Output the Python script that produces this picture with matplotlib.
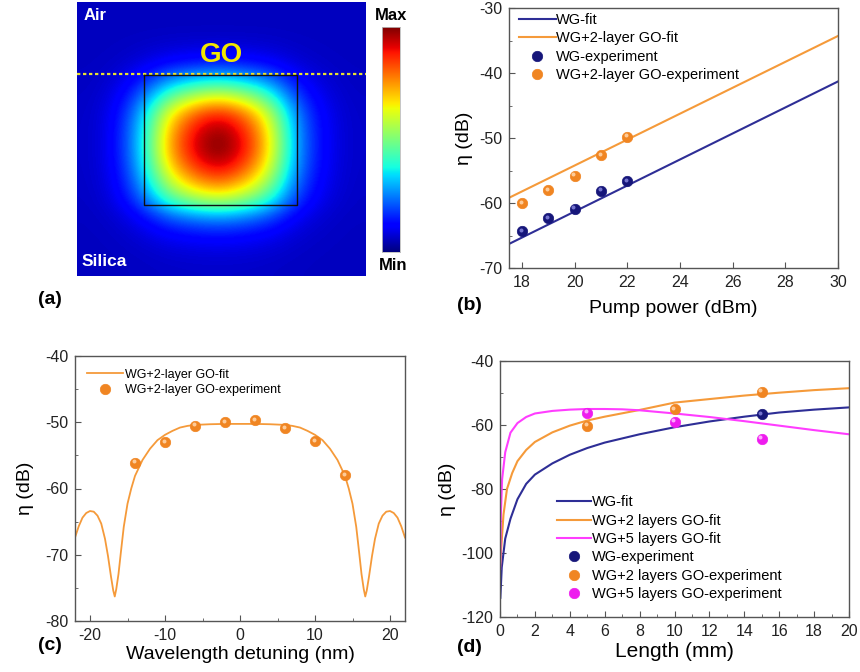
import numpy as np
import matplotlib
matplotlib.use('Agg')
import matplotlib.pyplot as plt
from matplotlib import transforms
from matplotlib.ticker import MultipleLocator

plt.rcParams['font.family'] = ['Liberation Sans', 'DejaVu Sans']
plt.rcParams['axes.unicode_minus'] = False

# (a) mode profile, read as two profiles (normalised) across the image
mode_x = [0.01, 0.03, 0.10, 0.25, 0.48, 0.72, 0.87, 0.97, 1.0,
          0.93, 0.80, 0.60, 0.34, 0.16, 0.07, 0.025, 0.01]
mode_y = [0.0, 0.0, 0.02, 0.09, 0.30, 0.59, 0.86, 0.97, 1.0,
          0.93, 0.78, 0.56, 0.24, 0.09, 0.03, 0.01]

# (b) pump power dependence
pump = [18, 19, 20, 21, 22]
wg_exp_b = [-64.3, -62.3, -60.9, -58.1, -56.6]
go_exp_b = [-60.0, -58.0, -55.8, -52.6, -49.8]
pump_fit = [17.5, 30]
wg_fit_b = [-66.3, -41.3]
go_fit_b = [-59.2, -34.3]

# (c) wavelength detuning (left half read, curve is symmetric)
det_half = [-22.0, -21.5, -21.0, -20.5, -20.0, -19.5, -19.0, -18.5, -18.0,
            -17.6, -17.2, -16.9, -16.7, -16.5, -16.2, -15.9, -15.5, -15.0,
            -14.5, -14.0, -13.0, -12.0, -11.0, -10.0, -9.0, -8.0, -7.0,
            -6.0, -5.0, -4.0, -2.0]
eta_half = [-67.4, -65.7, -64.4, -63.7, -63.4, -63.5, -64.1, -65.3, -67.6,
            -70.2, -73.3, -75.4, -76.3, -75.2, -72.9, -69.8, -65.8, -62.3,
            -60.0, -58.1, -55.7, -54.0, -52.7, -51.9, -51.3, -50.8, -50.55,
            -50.4, -50.35, -50.3, -50.25]
eta_center = -50.25
det_exp = [-14, -10, -6, -2, 2, 6, 10, 14]
eta_exp = [-56.1, -53.0, -50.5, -50.0, -49.7, -50.9, -52.9, -58.0]

# (d) length dependence
len_wg = [0.02, 0.1, 0.3, 0.6, 1.0, 1.5, 2.0, 3.0, 4.0, 5.0, 6.0, 8.0,
          10.0, 12.0, 14.0, 16.0, 18.0, 20.0]
wg_fit_d = [-114.0, -104.5, -95.5, -89.3, -83.2, -78.4, -75.5, -72.0, -69.3,
            -67.2, -65.5, -62.9, -60.7, -58.9, -57.4, -56.1, -55.2, -54.5]
len_go2 = [0.01, 0.1, 0.2, 0.4, 0.7, 1.0, 1.5, 2.0, 3.0, 4.0, 5.0, 6.0,
           8.0, 10.0, 12.0, 14.0, 16.0, 18.0, 20.0]
go2_fit_d = [-104.0, -96.0, -88.0, -80.0, -75.0, -71.3, -67.8, -65.3, -62.3,
             -60.2, -58.6, -57.4, -55.3, -53.0, -51.9, -50.8, -49.9, -49.1,
             -48.5]
len_go5 = [0.01, 0.05, 0.12, 0.3, 0.6, 1.0, 1.5, 2.0, 3.0, 4.0, 5.0, 6.0,
           7.0, 8.0, 10.0, 12.0, 14.0, 16.0, 18.0, 20.0]
go5_fit_d = [-105.0, -88.0, -77.0, -68.5, -62.4, -59.4, -57.5, -56.4, -55.6,
             -55.2, -55.0, -55.0, -55.1, -55.4, -56.4, -57.5, -58.8, -60.2,
             -61.6, -62.9]
len_exp = [5, 10, 15]
wg_exp_d = [-56.6]
go2_exp_d = [-60.2, -55.0, -49.6]
go5_exp_d = [-56.1, -59.0, -64.3]

c_wg = '#2e2e96'
c_or = '#f59a3a'
c_mg = '#ff3dff'
ball_wg = ('#16167a', '#7f7fd8')
ball_or = ('#f08522', '#ffd3a6')
ball_mg = ('#ee1cee', '#ffb8ff')

fig = plt.figure(figsize=(8.6, 6.72), dpi=100)


def balls(ax, x, y, colors, ms=7.5, label=None):
    h, = ax.plot(x, y, 'o', ms=ms, mfc=colors[0], mec=colors[0], mew=0.5,
                 label=label, zorder=4)
    hl = transforms.offset_copy(ax.transData, fig=fig, x=-1.0, y=1.0,
                                units='points')
    ax.plot(x, y, 'o', ms=ms * 0.38, mfc=colors[1], mec='none', alpha=0.9,
            transform=hl, zorder=5)
    return h


def style(ax):
    for s in ax.spines.values():
        s.set_color('#555555')
        s.set_linewidth(1.0)
    ax.tick_params(which='both', direction='in', top=False, right=False,
                   labelsize=11.5, colors='#555555', labelcolor='#222222')
    ax.tick_params(which='major', length=4, pad=5)
    ax.tick_params(which='minor', length=2.5)


# ---------- (a) ----------
axa = fig.add_axes([77 / 860, 1 - 276 / 672, 289 / 860, 274 / 672])
field = np.outer(mode_y, mode_x)
axa.imshow(field, cmap='jet', vmin=-0.06, vmax=1.0, extent=(77, 366, 276, 2),
           interpolation='bicubic', interpolation_stage='data', aspect='auto')
axa.plot([77, 366], [74, 74], color='#e8e030', lw=1.6, ls=(0, (1.5, 1.2)))
axa.plot([144, 144, 297, 297, 144], [75, 205, 205, 75, 75], color='#101010',
         lw=1.0)
axa.text(84, 16, 'Air', color='white', fontsize=12, fontweight='bold',
         va='center', ha='left')
axa.text(221, 55, 'GO', color='#f2e600', fontsize=20, fontweight='bold',
         va='center', ha='center')
axa.text(82, 262, 'Silica', color='white', fontsize=12.5, fontweight='bold',
         va='center', ha='left')
axa.set_xlim(77, 366)
axa.set_ylim(276, 2)
axa.axis('off')

axcb = fig.add_axes([382 / 860, 1 - 252 / 672, 18 / 860, 225 / 672])
axcb.imshow(np.linspace(1, 0, 256)[:, None], cmap='jet', aspect='auto')
axcb.set_xticks([])
axcb.set_yticks([])
for s in axcb.spines.values():
    s.set_color('#bbbbbb')
    s.set_linewidth(0.6)
fig.text(391 / 860, 1 - 16 / 672, 'Max', fontsize=12, fontweight='bold',
         ha='center', va='center')
fig.text(393 / 860, 1 - 265 / 672, 'Min', fontsize=12, fontweight='bold',
         ha='center', va='center')

# ---------- (b) ----------
axb = fig.add_axes([509 / 860, 1 - 268 / 672, 329 / 860, 260 / 672])
l1, = axb.plot(pump_fit, wg_fit_b, color=c_wg, lw=1.5, label='WG-fit')
l2, = axb.plot(pump_fit, go_fit_b, color=c_or, lw=1.5,
               label='WG+2-layer GO-fit')
p1 = balls(axb, pump, wg_exp_b, ball_wg, label='WG-experiment')
p2 = balls(axb, pump, go_exp_b, ball_or, label='WG+2-layer GO-experiment')
axb.set_xlim(17.5, 30)
axb.set_ylim(-70, -30)
axb.xaxis.set_major_locator(MultipleLocator(2))
axb.yaxis.set_major_locator(MultipleLocator(10))
axb.yaxis.set_minor_locator(MultipleLocator(5))
style(axb)
axb.set_xlabel('Pump power (dBm)', fontsize=14, labelpad=7)
axb.set_ylabel('η (dB)', fontsize=14, labelpad=4)
axb.legend(handles=[l1, l2, p1, p2], loc='upper left',
           bbox_to_anchor=(0.0, 1.02), frameon=False, fontsize=10.5,
           handlelength=2.5, handletextpad=0.05, labelspacing=0.3,
           borderpad=0.2)

# ---------- (c) ----------
axc = fig.add_axes([75 / 860, 1 - 621 / 672, 330 / 860, 265 / 672])
det_fit = det_half + [0.0] + [-v for v in det_half[::-1]]
eta_fit = eta_half + [eta_center] + eta_half[::-1]
l3, = axc.plot(det_fit, eta_fit, color=c_or, lw=1.3,
               label='WG+2-layer GO-fit')
p3 = balls(axc, det_exp, eta_exp, ball_or, ms=7.5,
           label='WG+2-layer GO-experiment')
axc.set_xlim(-22, 22)
axc.set_ylim(-80, -40)
axc.xaxis.set_major_locator(MultipleLocator(10))
axc.xaxis.set_minor_locator(MultipleLocator(5))
axc.yaxis.set_major_locator(MultipleLocator(10))
axc.yaxis.set_minor_locator(MultipleLocator(5))
style(axc)
axc.set_xlabel('Wavelength detuning (nm)', fontsize=14, labelpad=2)
axc.set_ylabel('η (dB)', fontsize=14, labelpad=8)
axc.legend(handles=[l3, p3], loc='upper left', bbox_to_anchor=(0.01, 0.985),
           frameon=False, fontsize=9, handlelength=2.9, handletextpad=0.1,
           labelspacing=0.3, borderpad=0.2)

# ---------- (d) ----------
axd = fig.add_axes([500 / 860, 1 - 617 / 672, 349 / 860, 256 / 672])
l4, = axd.plot(len_wg, wg_fit_d, color=c_wg, lw=1.5, label='WG-fit')
l5, = axd.plot(len_go2, go2_fit_d, color=c_or, lw=1.5,
               label='WG+2 layers GO-fit')
l6, = axd.plot(len_go5, go5_fit_d, color=c_mg, lw=1.5,
               label='WG+5 layers GO-fit')
p4 = balls(axd, len_exp[2:], wg_exp_d, ball_wg, label='WG-experiment')
p5 = balls(axd, len_exp, go2_exp_d, ball_or,
           label='WG+2 layers GO-experiment')
p6 = balls(axd, len_exp, go5_exp_d, ball_mg,
           label='WG+5 layers GO-experiment')
axd.set_xlim(0, 20)
axd.set_ylim(-120, -40)
axd.xaxis.set_major_locator(MultipleLocator(2))
axd.xaxis.set_minor_locator(MultipleLocator(1))
axd.yaxis.set_major_locator(MultipleLocator(20))
axd.yaxis.set_minor_locator(MultipleLocator(10))
style(axd)
axd.set_xlabel('Length (mm)', fontsize=15, labelpad=2)
axd.set_ylabel('η (dB)', fontsize=14, labelpad=4)
axd.legend(handles=[l4, l5, l6, p4, p5, p6], loc='upper left',
           bbox_to_anchor=(0.135, 0.515), frameon=False, fontsize=10.5,
           handlelength=2.3, handletextpad=0.1, labelspacing=0.3,
           borderpad=0.2)

# panel letters
for lab, x, y in [('(a)', 50, 300), ('(b)', 469, 305), ('(c)', 50, 645),
                  ('(d)', 469, 648)]:
    fig.text(x / 860, 1 - y / 672, lab, fontsize=14, fontweight='bold',
             ha='center', va='center')

fig.savefig('out.png', dpi=100, facecolor='white')
